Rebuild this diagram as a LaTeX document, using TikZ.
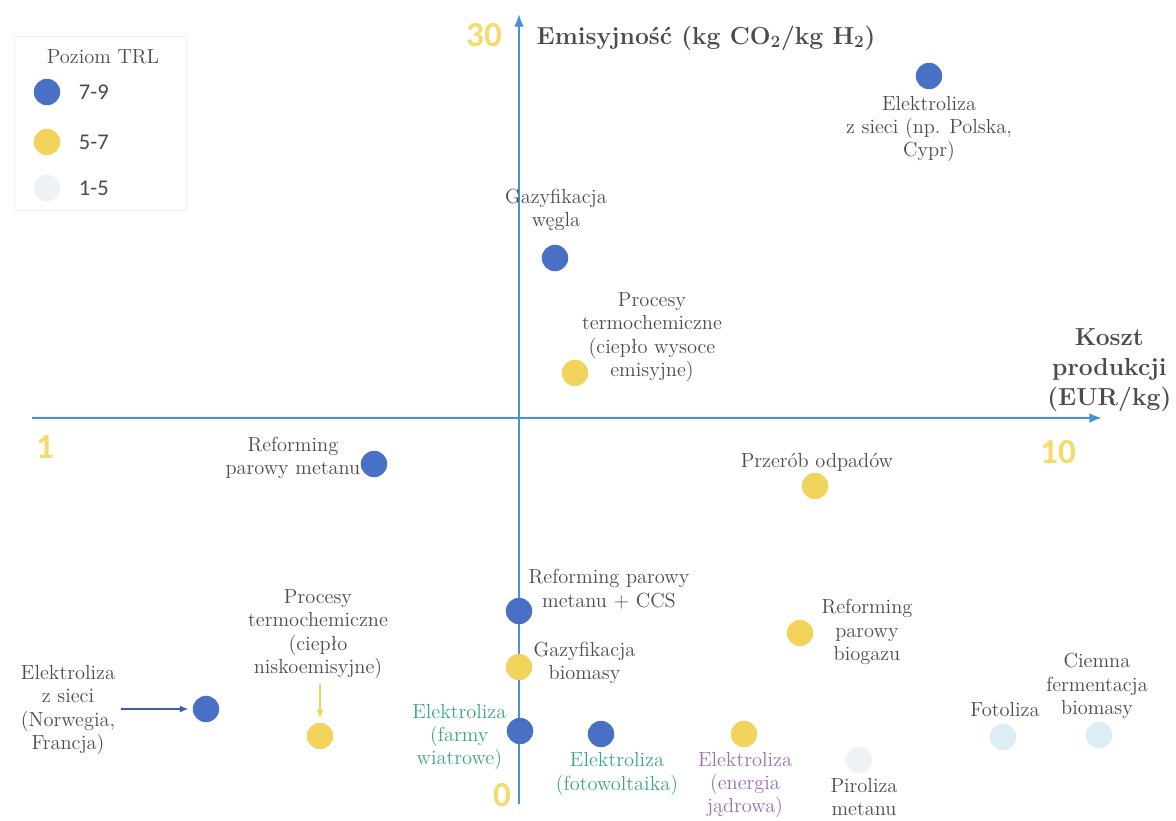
\documentclass[tikz,border=0pt]{standalone}
\usepackage{fontspec}
\newfontfamily\numfont{Carlito}
\usetikzlibrary{arrows.meta}

\definecolor{dotblue}{RGB}{72,112,196}
\definecolor{dotyellow}{RGB}{242,212,92}
\definecolor{dotpale}{RGB}{236,242,246}
\definecolor{dotcyan}{RGB}{220,238,244}
\definecolor{axisblue}{RGB}{72,145,210}
\definecolor{numyellow}{RGB}{242,220,110}
\definecolor{txtgray}{RGB}{75,75,75}
\definecolor{txtgreen}{RGB}{60,165,135}
\definecolor{txtpurple}{RGB}{155,110,175}

\begin{document}
\begin{tikzpicture}[
        x=0.025cm, y=-0.025cm,
        dot/.style={circle, minimum size=0.66cm, inner sep=0pt},
        trlhigh/.style={dot, fill=dotblue},
        trlmid/.style={dot, fill=dotyellow},
        trllow/.style={dot, fill=dotpale},
        trlcyan/.style={dot, fill=dotcyan},
        lbl/.style={text=txtgray, align=center, inner sep=1pt,
            font=\fontsize{14.5}{16.5}\selectfont},
        axtitle/.style={text=txtgray, align=center, inner sep=1pt,
            font=\fontsize{17.5}{21.5}\selectfont\bfseries},
        axnum/.style={text=numyellow, inner sep=0pt,
            font=\fontsize{25}{28}\selectfont\numfont\bfseries},
        axis/.style={draw=axisblue, line width=1.5pt, -{Latex[length=9pt,width=7pt]}},
        pointer/.style={line width=1pt, -{Latex[length=6pt,width=5pt]}, shorten <=3pt, shorten >=3pt}
    ]
    \useasboundingbox (0,0) rectangle (1176,821);

    % legenda
    \draw[black!5, fill=white] (14,36) rectangle (186,210);
    \node[lbl] (legtitle) at (103,57) {Poziom TRL};
    \node[trlhigh] (leg1) at (47,92) {};
    \node[trlmid] (leg2) at (47,142) {};
    \node[trllow] (leg3) at (47,188) {};
    \node[text=txtgray, anchor=west, font=\fontsize{16}{18}\selectfont\numfont] (leg1t) at (74,92) {7-9};
    \node[text=txtgray, anchor=west, font=\fontsize{16}{18}\selectfont\numfont] (leg2t) at (74,142) {5-7};
    \node[text=txtgray, anchor=west, font=\fontsize{16}{18}\selectfont\numfont] (leg3t) at (74,188) {1-5};

    % osie
    \coordinate (ybot) at (519,804);
    \coordinate (ytop) at (519,14);
    \coordinate (xleft) at (32,418);
    \coordinate (xright) at (1102,418);
    \draw[axis] (ybot) -- (ytop);
    \draw[axis] (xleft) -- (xright);
    \node[axnum] (n30) at (484,35) {30};
    \node[axnum] (n0) at (502,795) {0};
    \node[axnum] (n1) at (45,447) {1};
    \node[axnum] (n10) at (1058,452) {10};
    \node[axtitle, anchor=west] (ytitle) at (535,38) {Emisyjność (kg CO\textsubscript{2}/kg H\textsubscript{2})};
    \node[axtitle, anchor=east] (xtitle) at (1173,370) {Koszt\\produkcji\\(EUR/kg)};

    % technologie
    \node[trlhigh] (elpl) at (929,76) {};
    \node[lbl] (elplt) at (929,129) {Elektroliza\\z sieci (np. Polska,\\Cypr)};

    \node[trlhigh] (gwegla) at (555,258) {};
    \node[lbl] (gweglat) at (556,210) {Gazyfikacja\\węgla};

    \node[trlmid] (ptwys) at (575,373) {};
    \node[lbl] (ptwyst) at (652,337) {Procesy\\termochemiczne\\(ciepło wysoce\\emisyjne)};

    \node[trlhigh] (rpm) at (374,464) {};
    \node[lbl, anchor=east] (rpmt) at (362,458) {Reforming\\parowy metanu};

    \node[trlmid] (odpady) at (815,486) {};
    \node[lbl] (odpadyt) at (817,462) {Przerób odpadów};

    \node[trlhigh] (rpmccs) at (519,611) {};
    \node[lbl, anchor=west] (rpmccst) at (527,589) {Reforming parowy\\metanu + CCS};

    \node[trlmid] (gbio) at (519,667) {};
    \node[lbl, anchor=west] (gbiot) at (532,663) {Gazyfikacja\\biomasy};

    \node[trlhigh] (elwiatr) at (520,731) {};
    \node[lbl, text=txtgreen, anchor=east] (elwiatrt) at (508,737) {Elektroliza\\(farmy\\wiatrowe)};

    \node[trlhigh] (elpv) at (601,734) {};
    \node[lbl, text=txtgreen] (elpvt) at (617,774) {Elektroliza\\(fotowoltaika)};

    \node[trlmid] (eljad) at (744,734) {};
    \node[lbl, text=txtpurple] (eljadt) at (745,785) {Elektroliza\\(energia\\jądrowa)};

    \node[trlmid] (rpb) at (800,633) {};
    \node[lbl] (rpbt) at (867,632) {Reforming\\parowy\\biogazu};

    \node[trllow] (piroliza) at (859,760) {};
    \node[lbl] (pirolizat) at (864,797) {Piroliza\\metanu};

    \node[trlcyan] (fotoliza) at (1003,737) {};
    \node[lbl] (fotolizat) at (1005,710) {Fotoliza};

    \node[trlcyan] (fermentacja) at (1099,735) {};
    \node[lbl] (fermentacjat) at (1097,686) {Ciemna\\fermentacja\\biomasy};

    \node[trlhigh] (elnf) at (206,709) {};
    \node[lbl] (elnft) at (68,710) {Elektroliza\\z sieci\\(Norwegia,\\Francja)};
    \draw[pointer, draw=dotblue!85!black] (elnft.east |- elnf) -- (elnf);

    \node[trlmid] (ptnisk) at (320,736) {};
    \node[lbl] (ptniskt) at (318,634) {Procesy\\termochemiczne\\(ciepło\\niskoemisyjne)};
    \draw[pointer, draw=dotyellow] (ptniskt.south -| ptnisk) -- (ptnisk);
\end{tikzpicture}
\end{document}
